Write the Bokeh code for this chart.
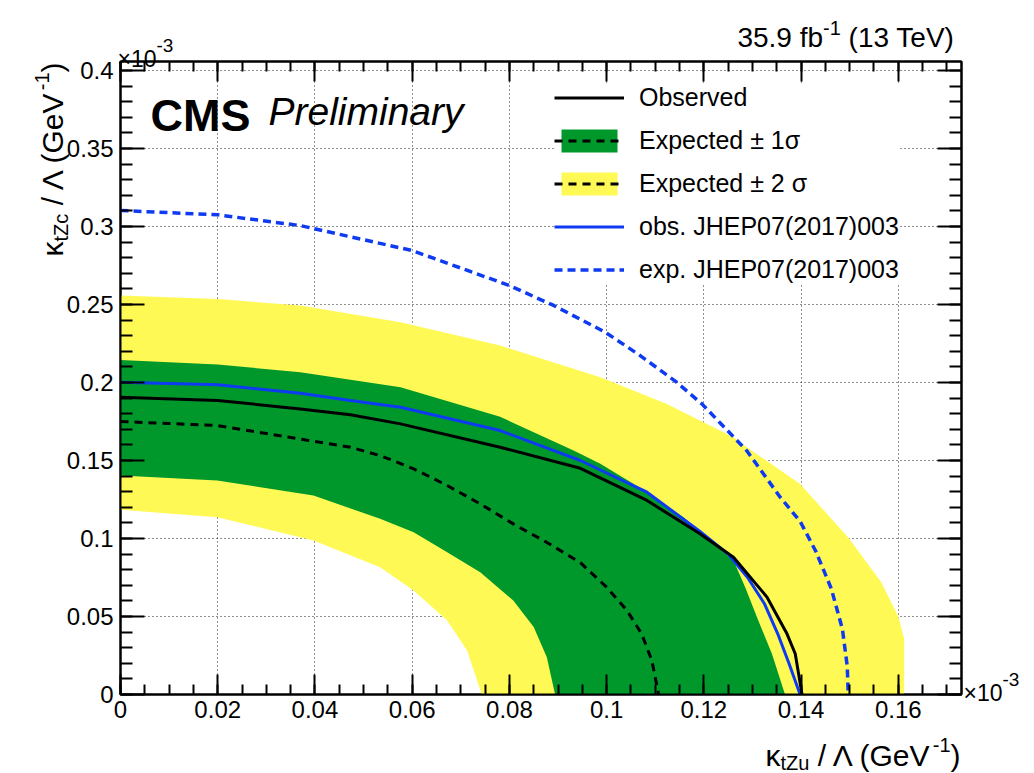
import math
from bokeh.plotting import figure
from bokeh.layouts import column
from bokeh.models import (Range1d, LinearAxis, FixedTicker, CustomJSTickFormatter,
                          Label, Legend, LegendItem, GridBox)
from bokeh.embed import file_html
from bokeh.resources import INLINE

FONT = "Liberation Sans"

# ---------------- data (units of 1e-3 GeV^-1) ----------------
# Observed limit (black solid)
obs_x = [0.0, 0.020, 0.037, 0.0473, 0.0576, 0.0781, 0.0946, 0.1083, 0.1192, 0.1261, 0.1330, 0.1371, 0.1388, 0.1402]
obs_y = [0.1906, 0.1885, 0.1831, 0.1793, 0.1735, 0.1585, 0.1450, 0.1244, 0.1030, 0.0880, 0.0624, 0.0389, 0.0261, 0.0]

# Expected median (black dashed)
exp_x = [0.0, 0.020, 0.0384, 0.0473, 0.0534, 0.0603, 0.0672, 0.0740, 0.0808, 0.0877, 0.0946, 0.1000, 0.1042, 0.1072, 0.1093, 0.1107]
exp_y = [0.1750, 0.1724, 0.1630, 0.1585, 0.1532, 0.1447, 0.1340, 0.1222, 0.1094, 0.0975, 0.0845, 0.0688, 0.0538, 0.0389, 0.0218, 0.0]

# Expected +1 sigma / -1 sigma (green band edges)
p1_x = [0.0, 0.020, 0.037, 0.0576, 0.0781, 0.0932, 0.0987, 0.1055, 0.1158, 0.1220, 0.1261, 0.1285, 0.1312, 0.1340, 0.1367]
p1_y = [0.2145, 0.2115, 0.2066, 0.1970, 0.1780, 0.1564, 0.1479, 0.1351, 0.1137, 0.0966, 0.0859, 0.0688, 0.0474, 0.0261, 0.0]
m1_x = [0.0, 0.0199, 0.0397, 0.0534, 0.0603, 0.0672, 0.0740, 0.0808, 0.0850, 0.0877, 0.0894]
m1_y = [0.1404, 0.1372, 0.1276, 0.1126, 0.1040, 0.0912, 0.0784, 0.0603, 0.0432, 0.0239, 0.0]

# Expected +2 sigma / -2 sigma (yellow band edges)
p2_x = [0.0, 0.020, 0.037, 0.0576, 0.0781, 0.0987, 0.1124, 0.1261, 0.1289, 0.1398, 0.1497, 0.1521, 0.1565, 0.1600, 0.1612, 0.1612]
p2_y = [0.2558, 0.2535, 0.2494, 0.2387, 0.2237, 0.2034, 0.1863, 0.1649, 0.1585, 0.1350, 0.1006, 0.0905, 0.0720, 0.0500, 0.0359, 0.0]
m2_x = [0.0, 0.0199, 0.0397, 0.0534, 0.0603, 0.0672, 0.0713, 0.0743]
m2_y = [0.1184, 0.1137, 0.0987, 0.0816, 0.0667, 0.0474, 0.0282, 0.0]

# Observed JHEP07(2017)003 (blue solid)
jo_x = [0.0, 0.020, 0.037, 0.0473, 0.0576, 0.0781, 0.0946, 0.1083, 0.1192, 0.1250, 0.1290, 0.1325, 0.1352, 0.1375, 0.1398]
jo_y = [0.2002, 0.1985, 0.1931, 0.1885, 0.1842, 0.1692, 0.1500, 0.1297, 0.1045, 0.0900, 0.0750, 0.0580, 0.0389, 0.0200, 0.0]

# Expected JHEP07(2017)003 (blue dashed)
je_x = [0.0, 0.020, 0.037, 0.060, 0.080, 0.0891, 0.0997, 0.1069, 0.1144, 0.1196, 0.1288, 0.1357, 0.1398, 0.1430, 0.1462, 0.1485, 0.1495, 0.1497]
je_y = [0.3103, 0.3075, 0.3006, 0.2846, 0.2622, 0.2494, 0.2323, 0.2173, 0.2002, 0.1863, 0.1564, 0.1265, 0.1110, 0.0920, 0.0680, 0.0420, 0.0180, 0.0]

x_ticks = [0.0, 0.02, 0.04, 0.06, 0.08, 0.10, 0.12, 0.14, 0.16]
x_tick_labels = ["0", "0.02", "0.04", "0.06", "0.08", "0.1", "0.12", "0.14", "0.16"]
y_ticks = [0.0, 0.05, 0.10, 0.15, 0.20, 0.25, 0.30, 0.35, 0.40]
y_tick_labels = ["0", "0.05", "0.1", "0.15", "0.2", "0.25", "0.3", "0.35", "0.4"]
x_minor = [round(i * 0.005, 4) for i in range(0, 35)]
y_minor = [round(i * 0.01, 3) for i in range(0, 41)]

legend_labels = ["Observed", "Expected \u00b1 1\u03c3", "Expected \u00b1 2 \u03c3",
                 "obs. JHEP07(2017)003", "exp. JHEP07(2017)003"]

GREEN = "#00982B"
YELLOW = "#FFF955"
BLUE = "#0E3BF2"

# ---------------- main figure ----------------
WID, HEI = 1034, 773
L, R, T, B = 120, 73, 61, 79
FB = HEI - B  # frame bottom (absolute px from top)

p = figure(width=WID, height=HEI, x_range=Range1d(0, 0.173), y_range=Range1d(0, 0.4058),
           output_backend="svg", toolbar_location=None,
           min_border_left=L, min_border_right=R, min_border_top=T, min_border_bottom=B)
p.background_fill_color = "white"
p.border_fill_color = "white"
p.outline_line_color = "black"
p.outline_line_width = 2

xt = FixedTicker(ticks=x_ticks, minor_ticks=x_minor)
yt = FixedTicker(ticks=y_ticks, minor_ticks=y_minor)

def style_axis(ax, major, minor, labels=True, overrides=None, standoff=5):
    ax.axis_line_color = "black"
    ax.axis_line_width = 2
    ax.major_tick_in = major
    ax.major_tick_out = 0
    ax.minor_tick_in = minor
    ax.minor_tick_out = 0
    ax.major_tick_line_width = 2
    ax.minor_tick_line_width = 2
    ax.major_tick_line_color = "black"
    ax.minor_tick_line_color = "black"
    if labels:
        ax.major_label_text_font = FONT
        ax.major_label_text_font_size = "24px"
        ax.major_label_text_color = "black"
        ax.major_label_standoff = standoff
        ax.major_label_overrides = overrides
    else:
        ax.formatter = CustomJSTickFormatter(code="return ''")
        ax.major_label_text_font_size = "1px"

xa = p.xaxis[0]
xa.ticker = xt
style_axis(xa, 20, 10, True, {v: s for v, s in zip(x_ticks, x_tick_labels)}, 6)
ya = p.yaxis[0]
ya.ticker = yt
style_axis(ya, 24, 12, True, {v: s for v, s in zip(y_ticks, y_tick_labels)}, 7)

top_ax = LinearAxis(ticker=xt)
style_axis(top_ax, 20, 10, False)
p.add_layout(top_ax, "above")
right_ax = LinearAxis(ticker=yt)
style_axis(right_ax, 24, 12, False)
p.add_layout(right_ax, "right")

for g in (p.xgrid[0], p.ygrid[0]):
    g.grid_line_color = "#222222"
    g.grid_line_width = 1
    g.grid_line_dash = "1 3"
p.xgrid[0].ticker = xt
p.ygrid[0].ticker = yt

# ---------------- bands and lines ----------------
yel = p.patch(p2_x + m2_x[::-1], p2_y + m2_y[::-1], fill_color=YELLOW, line_color=None)
grn = p.patch(p1_x + m1_x[::-1], p1_y + m1_y[::-1], fill_color=GREEN, line_color=None)
exp_r = p.line(exp_x, exp_y, line_color="black", line_width=3, line_dash="8 6")
je_r = p.line(je_x, je_y, line_color=BLUE, line_width=3.5, line_dash="8 5")
jo_r = p.line(jo_x, jo_y, line_color=BLUE, line_width=3)
obs_r = p.line(obs_x, obs_y, line_color="black", line_width=3)

legend = Legend(items=[
    LegendItem(label=legend_labels[0], renderers=[obs_r]),
    LegendItem(label=legend_labels[1], renderers=[grn, exp_r]),
    LegendItem(label=legend_labels[2], renderers=[yel, exp_r]),
    LegendItem(label=legend_labels[3], renderers=[jo_r]),
    LegendItem(label=legend_labels[4], renderers=[je_r]),
], location=(434, 410))
legend.glyph_width = 70
legend.glyph_height = 29
legend.label_height = 29
legend.spacing = 14
legend.padding = 8
legend.margin = 0
legend.label_standoff = 15
legend.label_text_font = FONT
legend.label_text_font_size = "25px"
legend.label_text_color = "black"
legend.background_fill_color = "white"
legend.background_fill_alpha = 1.0
legend.border_line_color = None
p.add_layout(legend, "center")

p.add_layout(Label(x=150 - L, y=FB - 115, x_units="screen", y_units="screen", text="CMS",
                   text_font=FONT, text_font_size="45px", text_font_style="bold",
                   text_baseline="alphabetic", text_color="black"))
p.add_layout(Label(x=268 - L, y=FB - 111, x_units="screen", y_units="screen", text="Preliminary",
                   text_font=FONT, text_font_size="39px", text_font_style="italic",
                   text_baseline="alphabetic", text_color="black"))

# ---------------- overlay for texts outside the frame ----------------
q = figure(width=WID, height=HEI, x_range=Range1d(0, WID), y_range=Range1d(HEI, 0),
           output_backend="svg", toolbar_location=None, x_axis_type=None, y_axis_type=None,
           min_border=0)
q.background_fill_color = None
q.border_fill_color = None
q.outline_line_color = None
q.grid.visible = False

WIDTHS = {" ": 278, "(": 333, ")": 333, "-": 333, ".": 278, "/": 278, "G": 778, "V": 667,
          "T": 611, "Z": 611, "e": 556, "f": 278, "b": 556, "t": 278, "u": 556, "c": 500,
          "\u03ba": 500, "\u039b": 667, "\u00d7": 584}

def tw(s, size):
    return sum(WIDTHS.get(ch, 556) for ch in s) * size / 1000.0

def lead(t, s):
    return tw(" " * (len(t) - len(t.lstrip(" "))), s)

def put_h(pieces, x0, ybase, align="left"):
    total = sum(tw(t, s) for t, s, _, _ in pieces)
    x = x0 if align == "left" else x0 - total
    for t, s, dy, st in pieces:
        q.add_layout(Label(x=x + lead(t, s), y=ybase + dy, text=t.strip(), text_font=FONT,
                           text_font_size=f"{s}px", text_font_style=st,
                           text_baseline="alphabetic", text_align="left", text_color="black"))
        x += tw(t, s)

def put_v(pieces, xbase, yend):
    total = sum(tw(t, s) for t, s, _, _ in pieces)
    y = yend + total
    for t, s, dx, st in pieces:
        q.add_layout(Label(x=xbase + dx, y=y - lead(t, s), angle=math.pi / 2, text=t.strip(),
                           text_font=FONT, text_font_size=f"{s}px", text_font_style=st,
                           text_baseline="alphabetic", text_align="left", text_color="black"))
        y -= tw(t, s)

N = "normal"
put_h([("\u03ba", 30, 0, N), ("tZu", 20, 7, N), (" / \u039b (GeV", 30, 0, N), ("-1", 20, -11, N), (")", 30, 0, N)],
      960, 755, "right")
put_v([("\u03ba", 30, 0, N), ("tZc", 20, 8, N), (" / \u039b (GeV", 30, 0, N), ("-1", 20, -11, N), (")", 30, 0, N)],
      52, 62)
put_h([("\u00d710", 23, 0, N), ("-3", 19, -13, N)], 117, 58)
put_h([("\u00d710", 23, 0, N), ("-3", 19, -13, N)], 963, 692)
put_h([("35.9 fb", 28, 0, N), ("-1", 20, -10, N), (" (13 TeV)", 28, 0, N)], 957, 37, "right")

grid = GridBox(children=[(p, 0, 0), (column(q), 0, 0)])
open("out.html", "w").write(file_html(grid, INLINE))
